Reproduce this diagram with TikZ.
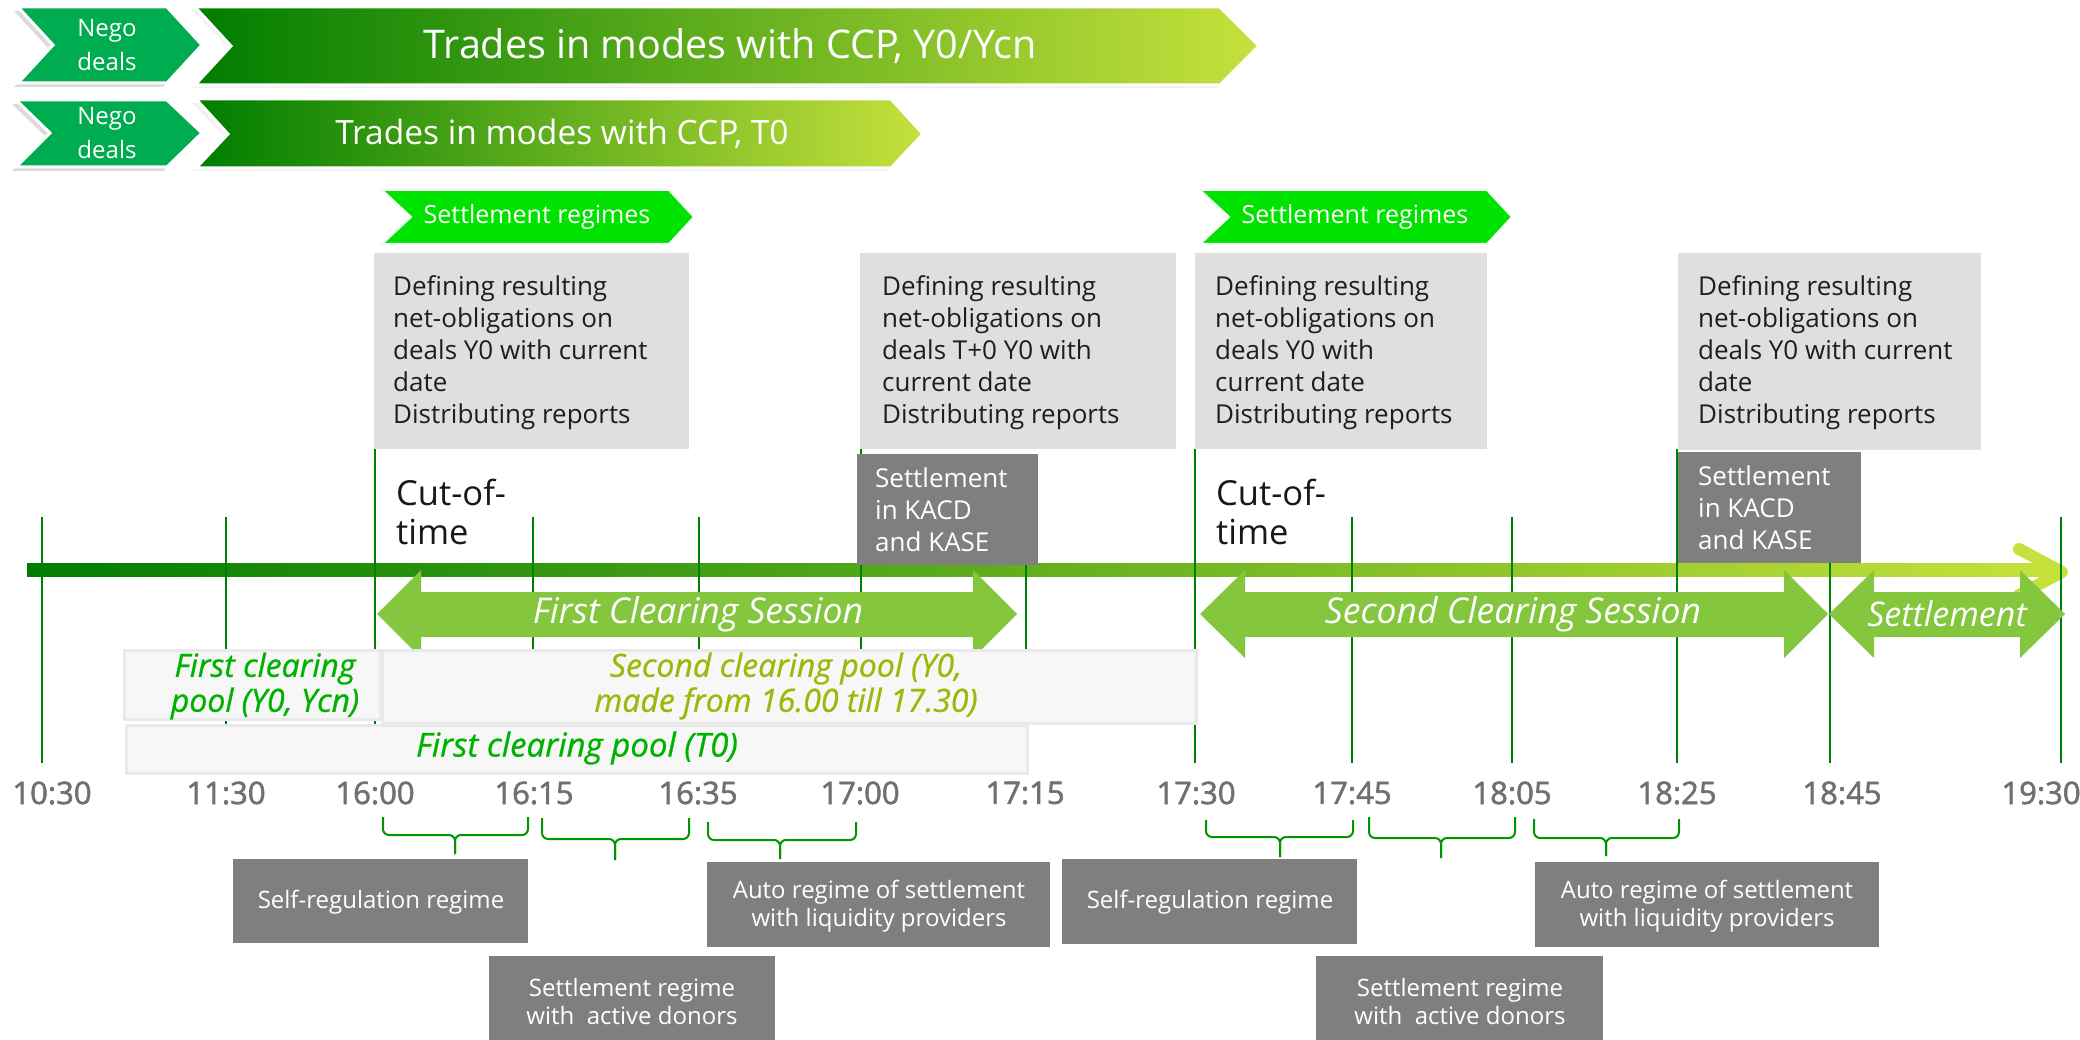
\documentclass[tikz,border=0pt]{standalone}
\usepackage{fontspec}
\setmainfont{Open Sans}
\newfontfamily\semib[FakeBold=1.8]{Open Sans}
\newfontfamily\semibit[FakeBold=0.8]{Open Sans Italic}
\definecolor{negoG}{RGB}{0,172,80}
\definecolor{grA}{RGB}{0,125,0}
\definecolor{grB}{RGB}{145,205,85}
\definecolor{grC}{RGB}{198,225,60}
\definecolor{regG}{RGB}{0,226,0}
\definecolor{lightbox}{RGB}{223,223,223}
\definecolor{darkbox}{RGB}{127,127,127}
\definecolor{sessG}{RGB}{132,198,62}
\definecolor{vline}{RGB}{0,128,0}
\definecolor{poolfill}{RGB}{247,247,247}
\definecolor{poolline}{RGB}{233,233,233}
\definecolor{poolG}{RGB}{0,178,0}
\definecolor{poolO}{RGB}{155,185,10}
\definecolor{braceG}{RGB}{0,150,0}
\definecolor{timegray}{RGB}{112,112,112}
\definecolor{boxtext}{RGB}{30,30,30}
\definecolor{cuttext}{RGB}{24,24,24}
\begin{document}
\begin{tikzpicture}[x=1pt,y=-1pt,
  shadowshape/.style={fill=black!14},
  outline/.style={draw=white,line width=3pt},
  negotext/.style={text=white,align=center,inner sep=0,font={\fontsize{24}{34}\selectfont}},
  tradetext/.style={text=white,inner sep=0},
  regtext/.style={text=white,inner sep=0,font={\fontsize{25}{30}\selectfont}},
  lbox/.style={fill=lightbox,inner sep=0,anchor=north west},
  lboxtext/.style={text=boxtext,align=left,anchor=west,inner sep=0,font={\fontsize{26}{32}\selectfont}},
  dbox/.style={fill=darkbox,inner sep=0,anchor=north west},
  dboxtext/.style={text=white,align=left,anchor=west,inner sep=0,font={\fontsize{26}{32}\selectfont}},
  cuttime/.style={text=cuttext,align=left,anchor=west,inner sep=0,font={\fontsize{34.5}{39}\selectfont}},
  vl/.style={draw=vline,line width=2.5pt},
  sess/.style={fill=sessG},
  sesstext/.style={text=white,inner sep=0},
  poolbox/.style={fill=poolfill,draw=poolline,line width=3pt,inner sep=0,anchor=north west},
  pooltext/.style={align=center,inner sep=0,font={\semibit\fontsize{32}{35}\selectfont}},
  tlabel/.style={text=timegray,inner sep=0,font={\semib\fontsize{31}{36}\selectfont}},
  bracebr/.style={draw=braceG,line width=2pt,rounded corners=6pt},
  rbox/.style={fill=darkbox,inner sep=0,anchor=north west},
  rboxtext/.style={text=white,align=center,inner sep=0,font={\fontsize{24}{28}\selectfont}}
]
\useasboundingbox (0,0) rectangle (2080,1040);

% ---------- top banners ----------
\fill[shadowshape] (14,11) -- (163,11) -- (198,49) -- (163,87) -- (14,87) -- (49,49) -- cycle;
\fill[shadowshape] (12,104) -- (163,104) -- (198,137) -- (163,171) -- (12,171) -- (46,137) -- cycle;
\fill[black!6] (192,10) -- (1217,10) -- (1256,48) -- (1217,88) -- (192,88) -- (229,48) -- cycle;
\fill[black!6] (192,103) -- (888,103) -- (920,137) -- (888,171) -- (192,171) -- (225,137) -- cycle;

\filldraw[fill=negoG,outline] (18,7) -- (167,7) -- (202,45) -- (167,83) -- (18,83) -- (53,45) -- cycle;
\filldraw[fill=negoG,outline] (16,100) -- (167,100) -- (202,133) -- (167,167) -- (16,167) -- (50,133) -- cycle;
\node[negotext] (nego1) at (107,45) {Nego\\deals};
\node[negotext] (nego2) at (107,133) {Nego\\deals};

\shade[left color=grA,middle color=grB,right color=grC] (195,7) -- (1220,7) -- (1259,46) -- (1220,85) -- (195,85) -- (231,46) -- cycle;
\draw[outline] (195,7) -- (1220,7) -- (1259,46) -- (1220,85) -- (195,85) -- (231,46) -- cycle;
\shade[left color=grA,middle color=grB,right color=grC] (196,99) -- (891,99) -- (923,134) -- (891,168) -- (196,168) -- (228,134) -- cycle;
\draw[outline] (196,99) -- (891,99) -- (923,134) -- (891,168) -- (196,168) -- (228,134) -- cycle;
\node[tradetext,font={\fontsize{39.5}{46}\selectfont}] (trades1) at (730,46) {Trades in modes with CCP, Y0/Ycn};
\node[tradetext,font={\fontsize{33.5}{40}\selectfont}] (trades2) at (562,134) {Trades in modes with CCP, T0};

\filldraw[fill=regG,draw=white!97!black,line width=2pt] (382,190) -- (669,190) -- (694,217) -- (669,244) -- (382,244) -- (411,217) -- cycle;
\filldraw[fill=regG,draw=white!97!black,line width=2pt] (1200,190) -- (1487,190) -- (1512,217) -- (1487,244) -- (1200,244) -- (1229,217) -- cycle;
\node[regtext] (reg1) at (537,217) {Settlement regimes};
\node[regtext] (reg2) at (1355,217) {Settlement regimes};

% ---------- timeline bar ----------
\shade[left color=grA,middle color=grB,right color=grC] (27,563) rectangle (2050,576);
\coordinate (tlheadA) at (2019,549);
\coordinate (tltip) at (2062,572);
\coordinate (tlheadB) at (2019,595);
\draw[draw=grC,line width=12pt,line cap=round,line join=round] (tlheadA) -- (tltip) -- (tlheadB);

% ---------- vertical lines ----------
\foreach \xx/\yy/\nm in {42/517/a,226/517/b,375/449/c,533/517/d,699/517/e,861/449/f,1026/517/g,1195/449/h,1352/517/i,1512/517/j,1677/449/k,1830/517/l,2061/517/m}{
  \coordinate (top\nm) at (\xx,\yy);
  \coordinate (bot\nm) at (\xx,763);
  \draw[vl] (top\nm) -- (bot\nm);
}

% ---------- light gray boxes ----------
\node[lbox,minimum width=315pt,minimum height=196pt] (def1) at (374,253) {};
\node[lbox,minimum width=316pt,minimum height=196pt] (def2) at (860,253) {};
\node[lbox,minimum width=292pt,minimum height=196pt] (def3) at (1195,253) {};
\node[lbox,minimum width=303pt,minimum height=197pt] (def4) at (1678,253) {};
\node[lboxtext] (def1t) at (393,353) {Defining resulting\\net-obligations on\\deals Y0 with current\\date\\Distributing reports};
\node[lboxtext] (def2t) at (882,353) {Defining resulting\\net-obligations on\\deals T+0 Y0 with\\current date\\Distributing reports};
\node[lboxtext] (def3t) at (1215,353) {Defining resulting\\net-obligations on\\deals Y0 with\\current date\\Distributing reports};
\node[lboxtext] (def4t) at (1698,353) {Defining resulting\\net-obligations on\\deals Y0 with current\\date\\Distributing reports};

% ---------- settlement in KACD boxes ----------
\node[dbox,minimum width=181pt,minimum height=111pt] (kacd1) at (857,454) {};
\node[dbox,minimum width=183pt,minimum height=111pt] (kacd2) at (1678,452) {};
\node[dboxtext] (kacd1t) at (875,510) {Settlement\\in KACD\\and KASE};
\node[dboxtext] (kacd2t) at (1698,508) {Settlement\\in KACD\\and KASE};

% ---------- cut-of-time ----------
\node[cuttime] (cut1) at (396,512) {Cut-of-\\time};
\node[cuttime] (cut2) at (1216,512) {Cut-of-\\time};

% ---------- clearing session arrows ----------
\fill[sess] (377,614) -- (421,570) -- (421,592) -- (973,592) -- (973,570) -- (1017,614) -- (973,658) -- (973,637) -- (421,637) -- (421,658) -- cycle;
\fill[sess] (1200,614) -- (1245,570) -- (1245,592) -- (1784,592) -- (1784,570) -- (1828,614) -- (1784,658) -- (1784,637) -- (1245,637) -- (1245,658) -- cycle;
\fill[sess] (1829,614) -- (1874,570) -- (1874,592) -- (2020,592) -- (2020,570) -- (2065,614) -- (2020,658) -- (2020,637) -- (1874,637) -- (1874,658) -- cycle;
\node[sesstext,font={\itshape\fontsize{35.5}{40}\selectfont}] (sess1) at (698,614) {First Clearing Session};
\node[sesstext,font={\itshape\fontsize{35.5}{40}\selectfont}] (sess2) at (1513,614) {Second Clearing Session};
\node[sesstext,font={\itshape\fontsize{34}{40}\selectfont}] (sess3) at (1947,614) {Settlement};

% ---------- pools ----------
\node[poolbox,minimum width=256pt,minimum height=69pt] (pool1) at (123,649) {};
\node[poolbox,minimum width=814pt,minimum height=73pt] (pool2) at (381,649) {};
\node[poolbox,minimum width=901pt,minimum height=48pt] (pool3) at (125,724) {};
\node[pooltext,text=poolG] (pool1t) at (265,686) {First clearing\\pool (Y0, Ycn)};
\node[pooltext,text=poolO] (pool2t) at (786,686) {Second clearing pool (Y0,\\made from 16.00 till 17.30)};
\node[pooltext,text=poolG,font={\semibit\fontsize{33}{35}\selectfont}] (pool3t) at (577,748) {First clearing pool (T0)};

% ---------- time labels ----------
\foreach \cx/\nm/\tt in {52/a/10:30,226/b/11:30,375/c/16:00,534/d/16:15,698/e/16:35,860/f/17:00,1025/g/17:15,1196/h/17:30,1352/i/17:45,1512/j/18:05,1677/k/18:25,1842/l/18:45,2041/m/19:30}{
  \node[tlabel] (lab\nm) at (\cx,793) {\tt};
}

% ---------- braces ----------
\foreach \xa/\xb/\yt/\yh/\ytip/\xc/\nm in {383/528/817/835/854/455/1,542/689/818/839/860/615/2,708/856/822/840/859/780/3,1206/1353/820/837/857/1280/4,1369/1515/817/838/858/1441/5,1534/1679/819/838/856/1606/6}{
  \coordinate (brA\nm) at (\xa,\yt);
  \coordinate (brB\nm) at (\xb,\yt);
  \coordinate (brT\nm) at (\xc,\ytip);
  \draw[bracebr] (brA\nm) -- (\xa,\yh) -- (\xc,\yh) -- (brT\nm);
  \draw[bracebr] (brB\nm) -- (\xb,\yh) -- (\xc,\yh) -- (brT\nm);
}

% ---------- regime boxes ----------
\node[rbox,minimum width=295pt,minimum height=84pt] (sr1) at (233,859) {};
\node[rbox,minimum width=286pt,minimum height=90pt] (sd1) at (489,956) {};
\node[rbox,minimum width=343pt,minimum height=85pt] (au1) at (707,862) {};
\node[rbox,minimum width=295pt,minimum height=85pt] (sr2) at (1062,859) {};
\node[rbox,minimum width=287pt,minimum height=90pt] (sd2) at (1316,956) {};
\node[rbox,minimum width=344pt,minimum height=85pt] (au2) at (1535,862) {};
\node[rboxtext] (sr1t) at (381,902) {Self-regulation regime};
\node[rboxtext] (sd1t) at (632,1001) {Settlement regime\\with\ \ active donors};
\node[rboxtext] (au1t) at (879,906) {Auto regime of settlement\\with liquidity providers};
\node[rboxtext] (sr2t) at (1210,902) {Self-regulation regime};
\node[rboxtext] (sd2t) at (1460,1001) {Settlement regime\\with\ \ active donors};
\node[rboxtext] (au2t) at (1707,906) {Auto regime of settlement\\with liquidity providers};
\end{tikzpicture}
\end{document}
